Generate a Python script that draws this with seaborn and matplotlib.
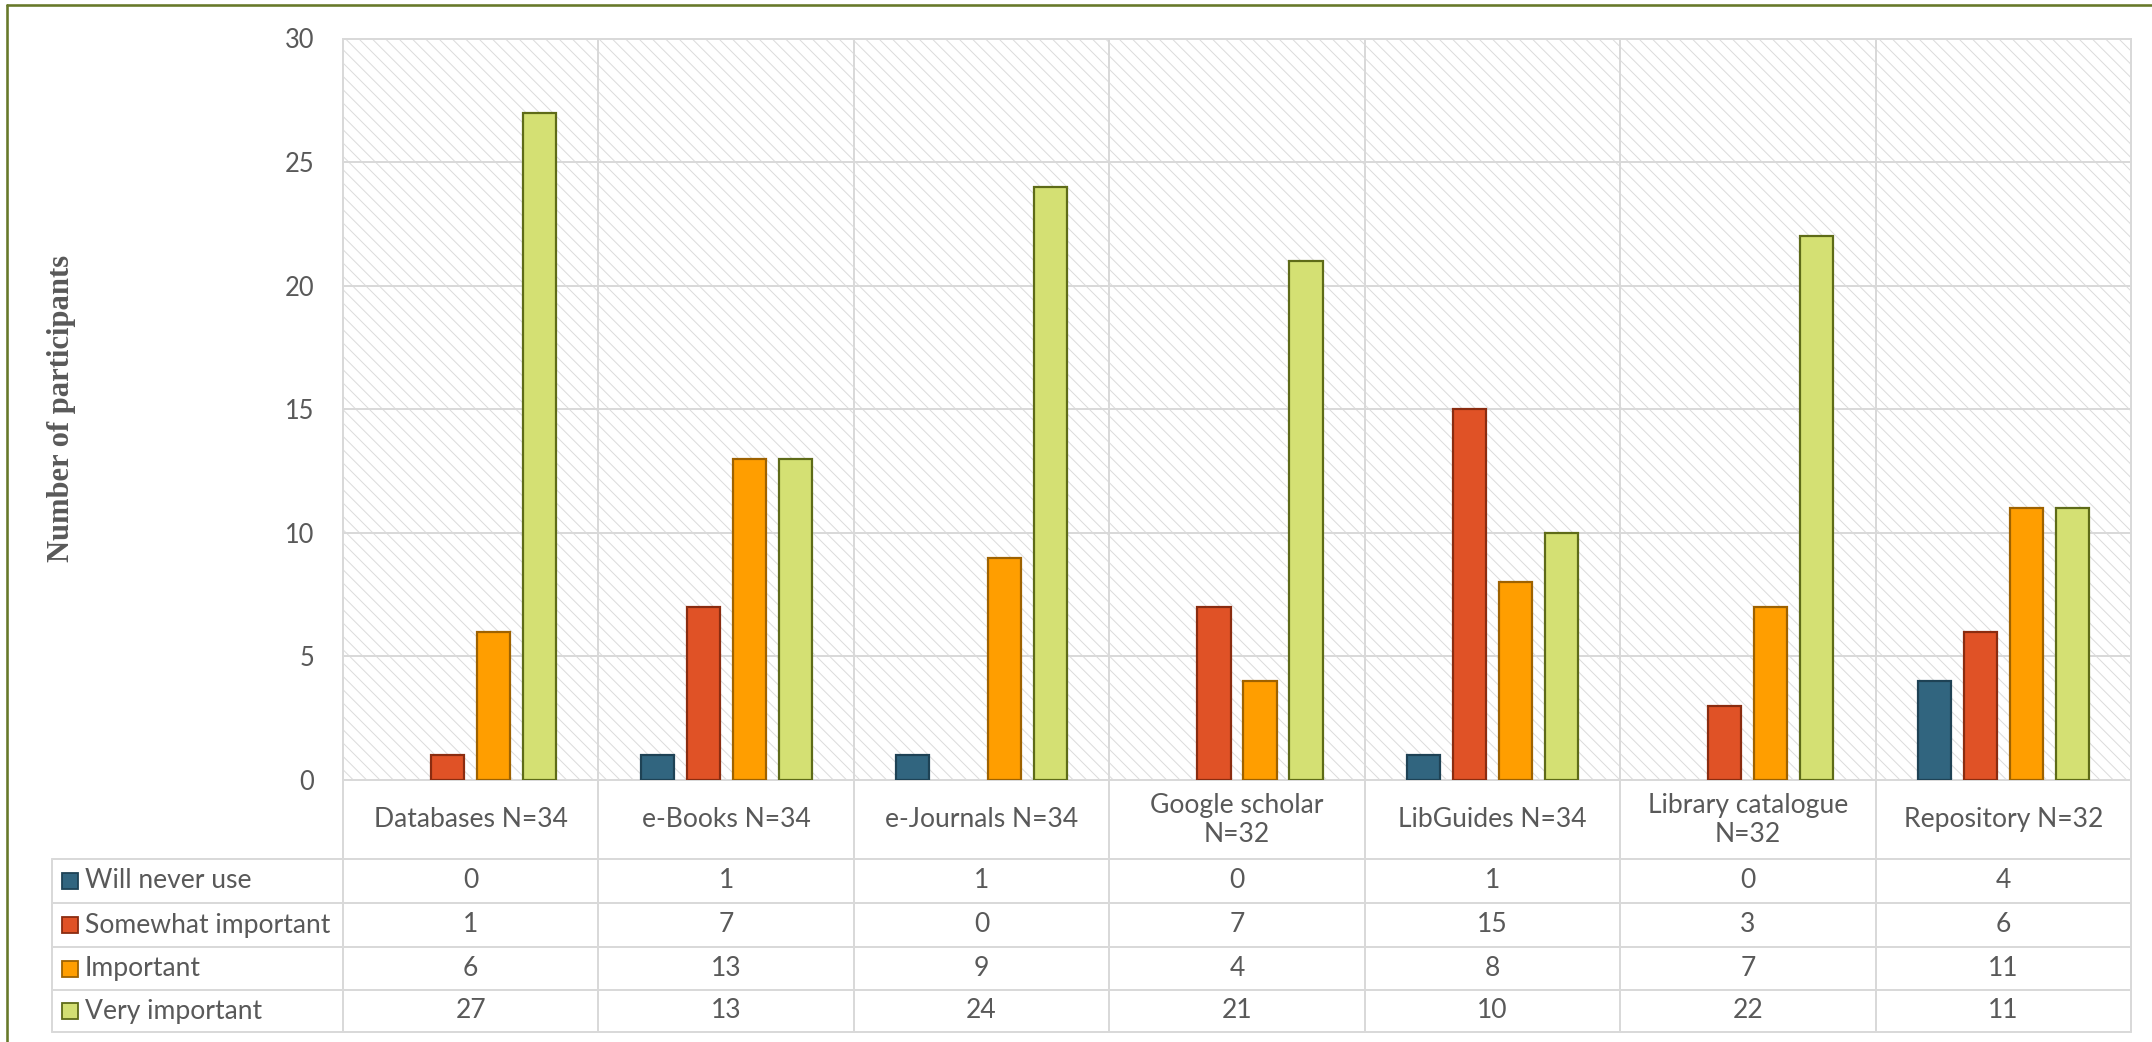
import numpy as np
import pandas as pd
import matplotlib
matplotlib.use("Agg")
import matplotlib.pyplot as plt
from matplotlib.patches import Rectangle
from matplotlib.lines import Line2D
import seaborn as sns

# ---- data -------------------------------------------------------------
categories = [
    "Databases N=34",
    "e-Books N=34",
    "e-Journals N=34",
    "Google scholar\nN=32",
    "LibGuides N=34",
    "Library catalogue\nN=32",
    "Repository N=32",
]
levels = ["Will never use", "Somewhat important", "Important", "Very important"]
will_never_use = [0, 1, 1, 0, 1, 0, 4]
somewhat_important = [1, 7, 0, 7, 15, 3, 6]
important = [6, 13, 9, 4, 8, 7, 11]
very_important = [27, 13, 24, 21, 10, 22, 11]
y_ticks = [0, 5, 10, 15, 20, 25, 30]

fill_colors = ["#31657F", "#E05226", "#FF9E00", "#D4E073"]
edge_colors = ["#1E4255", "#8A2C10", "#9E6200", "#5E6B18"]
text_color = "#595959"
grid_color = "#D9D9D9"

series = dict(zip(levels, [will_never_use, somewhat_important, important, very_important]))
df = pd.DataFrame(
    [(c, lvl, v) for lvl, vals in series.items() for c, v in zip(categories, vals)],
    columns=["category", "level", "count"],
)

# ---- figure ------------------------------------------------------------
W, H, DPI = 2152, 1042, 120


def pt(px):
    """Convert a size in output pixels to points."""
    return px * 72 / DPI


sns.set_theme(style="white")
plt.rcParams["font.family"] = ["Lato", "DejaVu Sans"]
plt.rcParams["hatch.linewidth"] = pt(1.0)

fig = plt.figure(figsize=(W / DPI, H / DPI), dpi=DPI)


def fx(px):
    return px / W


def fy(py):
    return 1 - py / H


left, right, top, bottom = 343, 2131, 38.5, 780
ax = fig.add_axes([fx(left), fy(bottom), (right - left) / W, (bottom - top) / H])

# hatched plot area
ax.add_patch(Rectangle((0, 0), 1, 1, transform=ax.transAxes, facecolor="white",
                       edgecolor="#DCDCDC", hatch="\\\\\\", linewidth=0, zorder=0.1))

sns.barplot(data=df, x="category", y="count", hue="level", order=categories,
            hue_order=levels, palette=fill_colors, saturation=1, width=0.72,
            gap=0.28, linewidth=pt(2.2), legend=False, errorbar=None, ax=ax,
            zorder=3)

for container, ec in zip(ax.containers, edge_colors):
    for bar in container:
        bar.set_edgecolor(ec)
        if bar.get_height() == 0:
            bar.set_visible(False)

ax.set_ylim(0, 30)
ax.set_xlim(-0.5, len(categories) - 0.5)
for yv in y_ticks[1:]:
    ax.axhline(yv, color=grid_color, lw=pt(2), zorder=1)
for xv in np.arange(0.5, len(categories) - 0.5, 1):
    ax.axvline(xv, color=grid_color, lw=pt(2), zorder=1)
for sp in ax.spines.values():
    sp.set_visible(True)
    sp.set_color(grid_color)
    sp.set_linewidth(pt(2))

ax.set_yticks(y_ticks)
ax.set_xticks([])
ax.set_xlabel("")
ax.set_ylabel("")
ax.tick_params(axis="y", length=0, pad=pt(29), labelsize=pt(25.5),
               labelcolor=text_color)

fig.text(fx(62), fy(408), "Number of participants", rotation=90,
         family=["Liberation Serif"], weight="bold", size=pt(30.5),
         color=text_color, ha="center", va="center")

# ---- data table under the axis ---------------------------------------
row_edges = [780, 859, 903, 947, 990, 1032]
col_w = (right - left) / len(categories)
col_edges = [left + i * col_w for i in range(len(categories) + 1)]
legend_left = 52
table_fs = pt(26.5)


def hline(y, x0, x1):
    fig.add_artist(Line2D([fx(x0), fx(x1)], [fy(y), fy(y)], color=grid_color, lw=pt(2)))


def vline(x, y0, y1):
    fig.add_artist(Line2D([fx(x), fx(x)], [fy(y0), fy(y1)], color=grid_color, lw=pt(2)))


for y in row_edges[1:]:
    hline(y, legend_left, right)
for x in col_edges:
    vline(x, row_edges[0], row_edges[-1])
vline(legend_left, row_edges[1], row_edges[-1])

for i, cat in enumerate(categories):
    cx = (col_edges[i] + col_edges[i + 1]) / 2
    fig.text(fx(cx), fy((row_edges[0] + row_edges[1]) / 2), cat, ha="center",
             va="center", size=table_fs, color=text_color, linespacing=1.2)

for r, lvl in enumerate(levels):
    cy = (row_edges[r + 1] + row_edges[r + 2]) / 2
    sq = 16
    fig.add_artist(Rectangle((fx(62), fy(cy + sq / 2)), sq / W, sq / H,
                             facecolor=fill_colors[r], edgecolor=edge_colors[r],
                             lw=pt(1.8), transform=fig.transFigure))
    fig.text(fx(85), fy(cy), lvl, ha="left", va="center", size=table_fs,
             color=text_color)
    for i, v in enumerate(series[lvl]):
        cx = (col_edges[i] + col_edges[i + 1]) / 2
        fig.text(fx(cx), fy(cy), str(v), ha="center", va="center", size=table_fs,
                 color=text_color)

# outer chart border
border = "#67792A"
fig.add_artist(Line2D([fx(7), 1.0], [fy(5), fy(5)], color=border, lw=pt(2.6)))
fig.add_artist(Line2D([fx(7), fx(7)], [fy(5), 0.0], color=border, lw=pt(2.6)))

fig.savefig("out.png", dpi=DPI)
